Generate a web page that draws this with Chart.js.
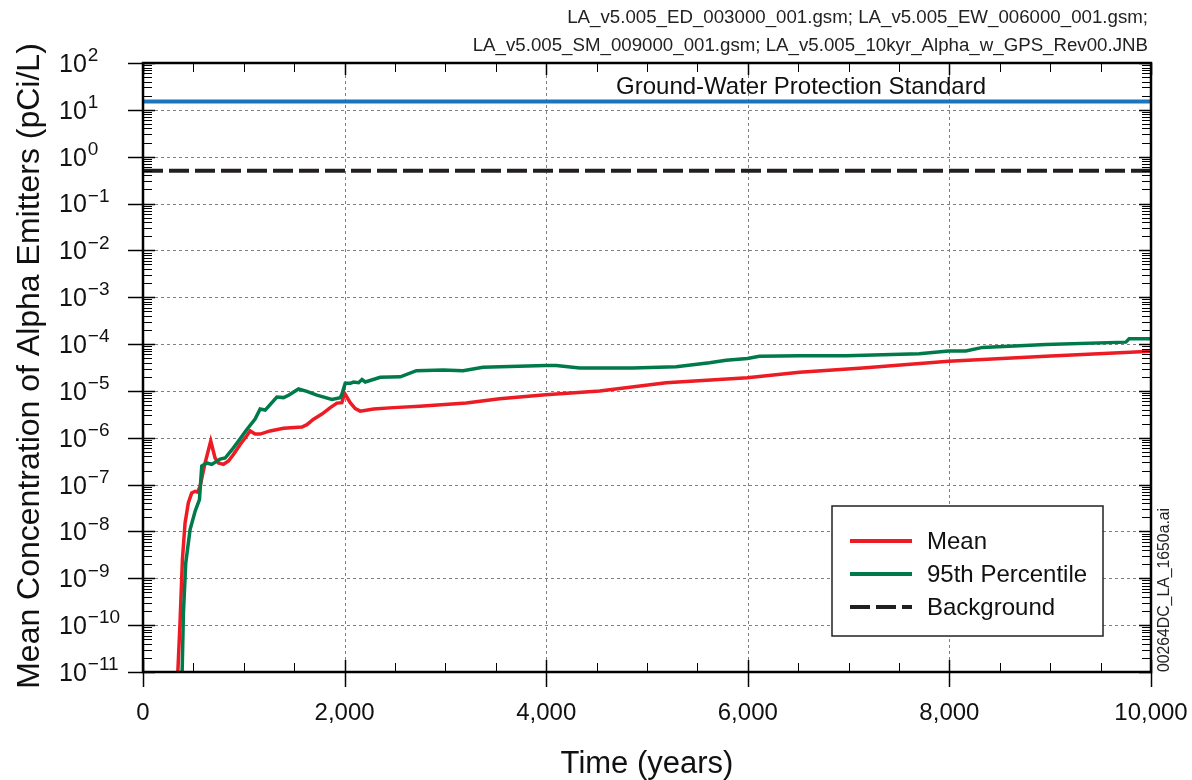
<!DOCTYPE html>
<html>
<head>
<meta charset="utf-8">
<script src="https://cdn.jsdelivr.net/npm/chart.js@4.4.1/dist/chart.umd.min.js"></script>
<style>
  html, body { margin: 0; padding: 0; background: #fff; }
  #chart { display: block; }
</style>
</head>
<body>
<canvas id="chart" width="1192" height="780"></canvas>
<script>
// values
const meanYears = [325, 367, 391, 417, 450, 483, 517, 540, 566, 616, 672, 715, 748, 798, 848, 897, 964, 1030, 1063, 1112, 1162, 1261, 1394, 1576, 1626, 1692, 1775, 1858, 1924, 1973, 2000, 2056, 2106, 2155, 2288, 2487, 2745, 3207, 3538, 3994, 4530, 5190, 5996, 6512, 7139, 7991, 8956, 10000];
const meanValues = [1e-12, 1.1e-10, 2.5e-9, 1.5e-8, 4.1e-8, 6.6e-8, 7.2e-8, 6.9e-8, 9.1e-8, 2.9e-7, 8.5e-7, 3.7e-7, 2.9e-7, 2.7e-7, 3.2e-7, 4.4e-7, 7.2e-7, 1.1e-6, 1.4e-6, 1.2e-6, 1.2e-6, 1.4e-6, 1.6e-6, 1.7e-6, 1.9e-6, 2.5e-6, 3.2e-6, 4.4e-6, 5.5e-6, 5.6e-6, 8.9e-6, 5.6e-6, 4.2e-6, 3.7e-6, 4.1e-6, 4.4e-6, 4.7e-6, 5.5e-6, 6.8e-6, 8.3e-6, 1.0e-5, 1.5e-5, 1.9e-5, 2.5e-5, 3.1e-5, 4.3e-5, 5.5e-5, 7.0e-5];

const p95Years = [378, 401, 424, 467, 517, 560, 583, 632, 682, 765, 815, 881, 947, 1030, 1112, 1162, 1212, 1328, 1394, 1444, 1543, 1626, 1725, 1874, 1957, 1973, 2006, 2056, 2089, 2139, 2172, 2205, 2354, 2553, 2712, 2977, 3175, 3373, 3994, 4100, 4332, 4860, 5290, 5620, 5785, 5996, 6115, 6512, 6974, 7700, 7991, 8163, 8330, 8956, 9750, 9783, 10000];
const p95Values = [1e-12, 1.8e-10, 2.1e-9, 1.1e-8, 2.7e-8, 4.8e-8, 2.5e-7, 2.9e-7, 2.7e-7, 3.5e-7, 3.7e-7, 5.5e-7, 8.5e-7, 1.5e-6, 2.5e-6, 4.1e-6, 3.9e-6, 7.4e-6, 7.2e-6, 8.1e-6, 1.1e-5, 9.8e-6, 8.1e-6, 6.6e-6, 7.2e-6, 8.5e-6, 1.45e-5, 1.45e-5, 1.55e-5, 1.5e-5, 1.75e-5, 1.55e-5, 1.95e-5, 2.0e-5, 2.7e-5, 2.8e-5, 2.7e-5, 3.2e-5, 3.5e-5, 3.5e-5, 3.1e-5, 3.1e-5, 3.3e-5, 4.0e-5, 4.5e-5, 4.9e-5, 5.5e-5, 5.6e-5, 5.6e-5, 6.2e-5, 7.1e-5, 7.1e-5, 8.5e-5, 9.8e-5, 1.1e-4, 1.3e-4, 1.3e-4];

const gwpsLevel = 15;
const backgroundLevel = 0.5;

const xMajorTicks = [0, 2000, 4000, 6000, 8000, 10000];
const xMinorStep = 500;
const yExponents = [2, 1, 0, -1, -2, -3, -4, -5, -6, -7, -8, -9, -10, -11];

const seriesLabels = ['Mean', '95th Percentile', 'Background'];
const gwpsLabel = 'Ground-Water Protection Standard';
const headerLines = [
  'LA_v5.005_ED_003000_001.gsm; LA_v5.005_EW_006000_001.gsm;',
  'LA_v5.005_SM_009000_001.gsm; LA_v5.005_10kyr_Alpha_w_GPS_Rev00.JNB'
];
const yTitle = 'Mean Concentration of Alpha Emitters (pCi/L)';
const xTitle = 'Time (years)';
const figureTag = '00264DC_LA_1650a.ai';

const FONT = '"Liberation Sans", Arial, Helvetica, sans-serif';

const toPoints = (xs, ys) => xs.map((x, i) => ({ x: x, y: ys[i] }));

// grid, frame, ticks, labels, legend - all drawn from the chart's scales
const decorPlugin = {
  id: 'decor',
  beforeDatasetsDraw(chart) {
    const { ctx, chartArea: a, scales: { x, y } } = chart;
    ctx.save();
    ctx.strokeStyle = '#808080';
    ctx.lineWidth = 1;
    ctx.setLineDash([3, 3]);
    xMajorTicks.forEach(v => {
      if (v <= 0 || v >= 10000) return;
      const px = Math.round(x.getPixelForValue(v)) + 0.5;
      ctx.beginPath(); ctx.moveTo(px, a.top); ctx.lineTo(px, a.bottom); ctx.stroke();
    });
    yExponents.forEach(e => {
      if (e === 2 || e === -11) return;
      const py = Math.round(y.getPixelForValue(Math.pow(10, e))) + 0.5;
      ctx.beginPath(); ctx.moveTo(a.left, py); ctx.lineTo(a.right, py); ctx.stroke();
    });
    ctx.restore();
  },
  afterDatasetsDraw(chart) {
    const { ctx, chartArea: a, scales: { x, y } } = chart;
    ctx.save();
    ctx.setLineDash([]);
    ctx.strokeStyle = '#000';

    // minor ticks on y (left and right, inside)
    ctx.lineWidth = 1;
    yExponents.forEach(e => {
      if (e === 2) return;
      for (let m = 2; m <= 9; m++) {
        const py = Math.round(y.getPixelForValue(m * Math.pow(10, e))) + 0.5;
        ctx.beginPath(); ctx.moveTo(a.left, py); ctx.lineTo(a.left + 9, py); ctx.stroke();
        ctx.beginPath(); ctx.moveTo(a.right, py); ctx.lineTo(a.right - 9, py); ctx.stroke();
      }
    });
    // minor ticks on x (top and bottom, inside)
    for (let v = xMinorStep; v < 10000; v += xMinorStep) {
      if (v % 2000 === 0) continue;
      const px = Math.round(x.getPixelForValue(v)) + 0.5;
      ctx.beginPath(); ctx.moveTo(px, a.bottom); ctx.lineTo(px, a.bottom - 9); ctx.stroke();
      ctx.beginPath(); ctx.moveTo(px, a.top); ctx.lineTo(px, a.top + 9); ctx.stroke();
    }
    // major ticks
    ctx.lineWidth = 1.5;
    yExponents.forEach(e => {
      const py = Math.round(y.getPixelForValue(Math.pow(10, e))) + 0.5;
      ctx.beginPath(); ctx.moveTo(a.left - 15, py); ctx.lineTo(a.left + 12, py); ctx.stroke();
      ctx.beginPath(); ctx.moveTo(a.right, py); ctx.lineTo(a.right - 12, py); ctx.stroke();
    });
    xMajorTicks.forEach(v => {
      const px = Math.round(x.getPixelForValue(v)) + 0.5;
      ctx.beginPath(); ctx.moveTo(px, a.bottom + 15); ctx.lineTo(px, a.bottom - 12); ctx.stroke();
      ctx.beginPath(); ctx.moveTo(px, a.top); ctx.lineTo(px, a.top + 12); ctx.stroke();
    });
    // frame
    ctx.lineWidth = 2.5;
    ctx.strokeRect(a.left, a.top, a.right - a.left, a.bottom - a.top);

    // y tick labels 10^n
    ctx.fillStyle = '#111';
    ctx.textBaseline = 'middle';
    ctx.textAlign = 'left';
    yExponents.forEach(e => {
      const py = y.getPixelForValue(Math.pow(10, e));
      ctx.font = '25px ' + FONT;
      ctx.fillText('10', 59, py + 2);
      const w = ctx.measureText('10').width;
      ctx.font = '19px ' + FONT;
      ctx.fillText(String(e).replace('-', '\u2212'), 59 + w + 1, py - 7);
    });
    // x tick labels
    ctx.font = '24px ' + FONT;
    ctx.textAlign = 'center';
    xMajorTicks.forEach(v => {
      ctx.fillText(v.toLocaleString('en-US'), x.getPixelForValue(v), 713);
    });
    // axis titles
    ctx.font = '31px ' + FONT;
    ctx.fillText(xTitle, (a.left + a.right) / 2, 764);
    ctx.save();
    ctx.translate(30, 366);
    ctx.rotate(-Math.PI / 2);
    ctx.font = '32px ' + FONT;
    ctx.fillText(yTitle, 0, 0);
    ctx.restore();

    // header
    ctx.font = '18.7px ' + FONT;
    ctx.textAlign = 'right';
    ctx.fillStyle = '#222';
    ctx.fillText(headerLines[0], 1148, 18);
    ctx.fillText(headerLines[1], 1148, 46);

    // figure tag
    ctx.save();
    ctx.translate(1165, 590);
    ctx.rotate(-Math.PI / 2);
    ctx.textAlign = 'center';
    ctx.font = '15.8px ' + FONT;
    ctx.fillText(figureTag, 0, 0);
    ctx.restore();

    // GWPS label
    ctx.font = '24px ' + FONT;
    ctx.textAlign = 'center';
    ctx.fillStyle = '#111';
    ctx.fillText(gwpsLabel, 801, 87);

    // legend
    const box = { l: 832, t: 506, r: 1103, b: 636 };
    ctx.fillStyle = '#fff';
    ctx.fillRect(box.l, box.t, box.r - box.l, box.b - box.t);
    ctx.lineWidth = 1.5;
    ctx.strokeStyle = '#222';
    ctx.strokeRect(box.l, box.t, box.r - box.l, box.b - box.t);
    const legendSets = [chart.data.datasets[0], chart.data.datasets[1], chart.data.datasets[3]];
    const rowY = [541, 574, 607];
    ctx.font = '24px ' + FONT;
    ctx.textAlign = 'left';
    legendSets.forEach((ds, i) => {
      ctx.strokeStyle = ds.borderColor;
      ctx.lineWidth = 4;
      ctx.setLineDash(ds.borderDash || []);
      ctx.beginPath(); ctx.moveTo(850, rowY[i]); ctx.lineTo(912, rowY[i]); ctx.stroke();
      ctx.setLineDash([]);
      ctx.fillStyle = '#111';
      ctx.fillText(seriesLabels[i], 927, rowY[i] + 1);
    });
    ctx.restore();
  }
};

new Chart(document.getElementById('chart'), {
  type: 'line',
  data: {
    datasets: [
      {
        label: seriesLabels[0],
        data: toPoints(meanYears, meanValues),
        borderColor: '#ed1c24',
        borderWidth: 3.5,
        pointRadius: 0,
        order: 1
      },
      {
        label: seriesLabels[1],
        data: toPoints(p95Years, p95Values),
        borderColor: '#007a4a',
        borderWidth: 3.5,
        pointRadius: 0,
        order: 0
      },
      {
        label: gwpsLabel,
        data: toPoints([0, 10000], [gwpsLevel, gwpsLevel]),
        borderColor: '#1c75bc',
        borderWidth: 4,
        pointRadius: 0,
        order: 3
      },
      {
        label: seriesLabels[2],
        data: toPoints([0, 10000], [backgroundLevel, backgroundLevel]),
        borderColor: '#231f20',
        borderWidth: 4,
        borderDash: [20, 6],
        pointRadius: 0,
        order: 2
      }
    ]
  },
  options: {
    responsive: false,
    animation: false,
    layout: { padding: { left: 143, right: 41, top: 63, bottom: 108 } },
    plugins: { legend: { display: false }, tooltip: { enabled: false } },
    scales: {
      x: { type: 'linear', min: 0, max: 10000, display: false },
      y: { type: 'logarithmic', min: 1e-11, max: 100, display: false }
    }
  },
  plugins: [decorPlugin]
});
</script>
</body>
</html>
